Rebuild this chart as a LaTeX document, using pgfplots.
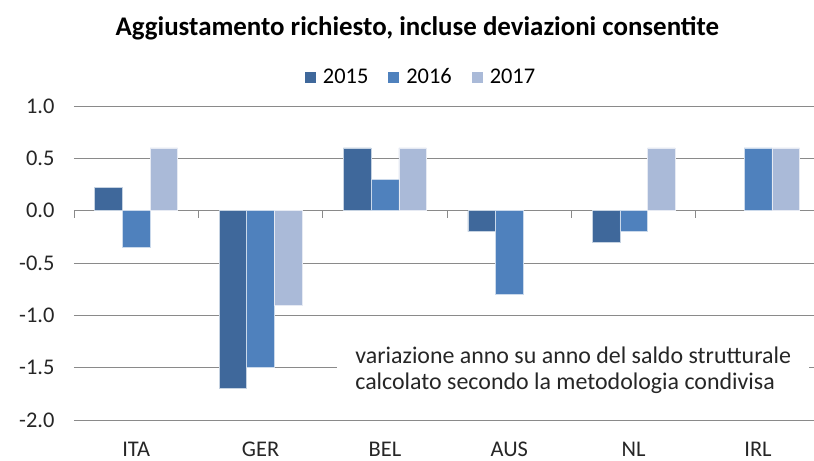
\documentclass[border=0pt]{standalone}
\usepackage{pgfplots}
\pgfplotsset{compat=1.18}
\usepackage{fontspec}
\setmainfont{Carlito}
\definecolor{cA}{RGB}{63,104,155}
\definecolor{cB}{RGB}{79,129,189}
\definecolor{cC}{RGB}{170,186,216}
\definecolor{gridc}{RGB}{138,138,138}
\begin{document}
\begin{tikzpicture}
\useasboundingbox (-74bp,-41bp) rectangle (740bp,420bp);
\begin{axis}[
  at={(0,0)}, anchor=south west,
  scale only axis, width=740bp, height=314bp,
  xmin=-0.5, xmax=5.45, ymin=-2, ymax=1,
  ybar=0pt, bar width=27.7bp,
  xtick={0,...,5}, xticklabels={ITA,GER,BEL,AUS,NL,IRL},
  ytick={-2,-1.5,...,1},
  major tick length=0,
  /pgf/number format/assume math mode=true,
  tick label style={font=\fontsize{22.5}{26}\selectfont, text=black!85},
  yticklabel style={xshift=-16bp, /pgf/number format/.cd,fixed,fixed zerofill,precision=1},
  xticklabel style={anchor=base, inner sep=0pt, yshift=-36bp},
  axis line style={draw=none},
  ymajorgrids, grid style={gridc, line width=0.75bp},
  legend columns=3,
  legend style={at={(rel axis cs:0.469,1.092)}, anchor=center, draw=none,
    font=\fontsize{22.5}{26}\selectfont,
    /tikz/every odd column/.append style={column sep=5bp},
    /tikz/every even column/.append style={column sep=18bp}},
  legend image code/.code={\path[#1, draw=none] (0bp,-5.5bp) rectangle (11bp,5.5bp);},
  clip=false,
]
\addplot[fill=cA, draw=white!70!cA, line width=0.5bp] coordinates {(0,0.22) (1,-1.7) (2,0.6) (3,-0.2) (4,-0.3)};
\addplot[fill=cB, draw=white!70!cB, line width=0.5bp] coordinates {(0,-0.35) (1,-1.5) (2,0.3) (3,-0.8) (4,-0.2) (5,0.6)};
\addplot[fill=cC, draw=white!70!cC, line width=0.5bp] coordinates {(0,0.6) (1,-0.9) (2,0.6) (4,0.6) (5,0.6)};
\legend{2015,2016,2017}
\pgfplotsinvokeforeach{-0.5,0.5,1.5,2.5,3.5,4.5}{
  \draw[gridc, line width=0.75bp] (axis cs:#1,0) -- ([yshift=-7bp]axis cs:#1,0);
}
\node[fill=white, anchor=west, align=left, inner xsep=18bp, inner ysep=8bp,
  font=\fontsize{24}{26}\selectfont, text=black!85]
  at (axis cs:1.616,-1.523)
  {variazione anno su anno del saldo strutturale\\calcolato secondo la metodologia condivisa};
\node[font=\bfseries\fontsize{27}{30}\selectfont] at (rel axis cs:0.464,1.248)
  {Aggiustamento richiesto, incluse deviazioni consentite};
\end{axis}
\end{tikzpicture}
\end{document}
